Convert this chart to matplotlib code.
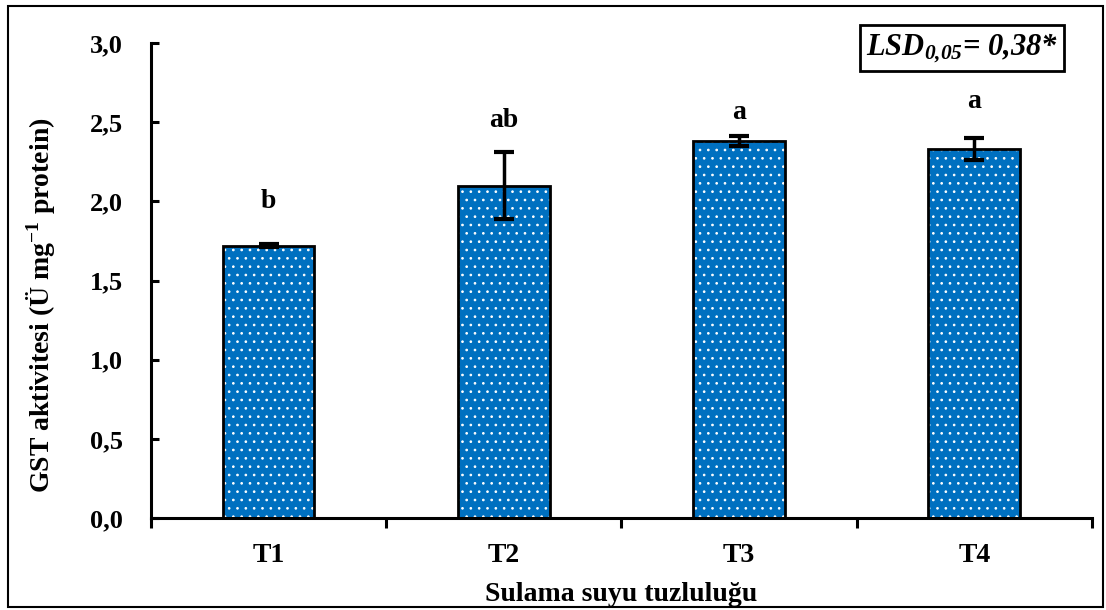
import matplotlib
matplotlib.use("Agg")
import matplotlib.pyplot as plt
from matplotlib.patches import Rectangle

plt.rcParams["font.family"] = ["Liberation Serif", "DejaVu Serif"]
plt.rcParams["font.weight"] = "bold"
plt.rcParams["axes.labelweight"] = "bold"
plt.rcParams["mathtext.fontset"] = "custom"
plt.rcParams["mathtext.rm"] = "Liberation Serif:bold"
plt.rcParams["mathtext.it"] = "Liberation Serif:italic:bold"
plt.rcParams["mathtext.bf"] = "Liberation Serif:bold"
plt.rcParams["mathtext.sf"] = "Liberation Serif:italic:bold"
plt.rcParams["hatch.linewidth"] = 0.7

BLUE = "#0070C0"

treatments = ["T1", "T2", "T3", "T4"]
gst = [1.72, 2.10, 2.38, 2.33]
err = [0.01, 0.21, 0.03, 0.07]
letters = ["b", "ab", "a", "a"]
letter_y = [2.00, 2.51, 2.56, 2.63]

fig = plt.figure(figsize=(11.06, 6.10), dpi=100)
ax = fig.add_axes([0.1365, 0.1508, 0.8508, 0.7787])
x = range(len(treatments))

# dolgu + beyaz noktalar, sonra siyah kenar ayrı çiziliyor
ax.bar(x, gst, width=0.39, color=BLUE, edgecolor="white", hatch="..", linewidth=0, zorder=2)
ax.bar(x, gst, width=0.39, color="none", edgecolor="black", linewidth=2.0, zorder=3)
ax.errorbar(x, gst, yerr=err, fmt="none", ecolor="black", elinewidth=2.5,
            capsize=7, capthick=3, zorder=4)

for i, (lab, ly) in enumerate(zip(letters, letter_y)):
    ax.text(i, ly, lab, ha="center", va="center", fontsize=20, fontweight="bold")

ax.set_xlim(-0.5, 3.5)
ax.set_ylim(0, 3.0)
ax.set_yticks([0, 0.5, 1.0, 1.5, 2.0, 2.5, 3.0])
ax.set_yticklabels(["0,0", "0,5", "1,0", "1,5", "2,0", "2,5", "3,0"], fontsize=19)
ax.set_xticks(list(x))
ax.set_xticklabels(treatments, fontsize=20)
ax.set_xticks([-0.5, 0.5, 1.5, 2.5, 3.5], minor=True)
ax.tick_params(axis="x", which="major", length=0, pad=18)
ax.tick_params(axis="x", which="minor", length=7, width=2.2, direction="out")
ax.tick_params(axis="y", length=6, width=2.2, direction="in", pad=20)

for s in ["top", "right"]:
    ax.spines[s].set_visible(False)
for s in ["left", "bottom"]:
    ax.spines[s].set_linewidth(2.2)

ax.set_ylabel("GST aktivitesi (Ü mg$^{-1}$ protein)", fontsize=20)
ax.yaxis.set_label_coords(-0.100, 0.448)
ax.set_xlabel("Sulama suyu tuzluluğu", fontsize=20, labelpad=10)

fig.text(0.870, 0.921, "$\\mathsf{LSD_{0{,}05}}$= 0,38*", ha="center", va="center",
         fontsize=22, fontstyle="italic", fontweight="bold",
         bbox=dict(boxstyle="square,pad=0.2", facecolor="white", edgecolor="black", linewidth=2.0))

fig.patches.append(Rectangle((0.007, 0.005), 0.99, 0.985, transform=fig.transFigure,
                             fill=False, edgecolor="black", linewidth=1.5))

fig.savefig("out.png", dpi=100)
